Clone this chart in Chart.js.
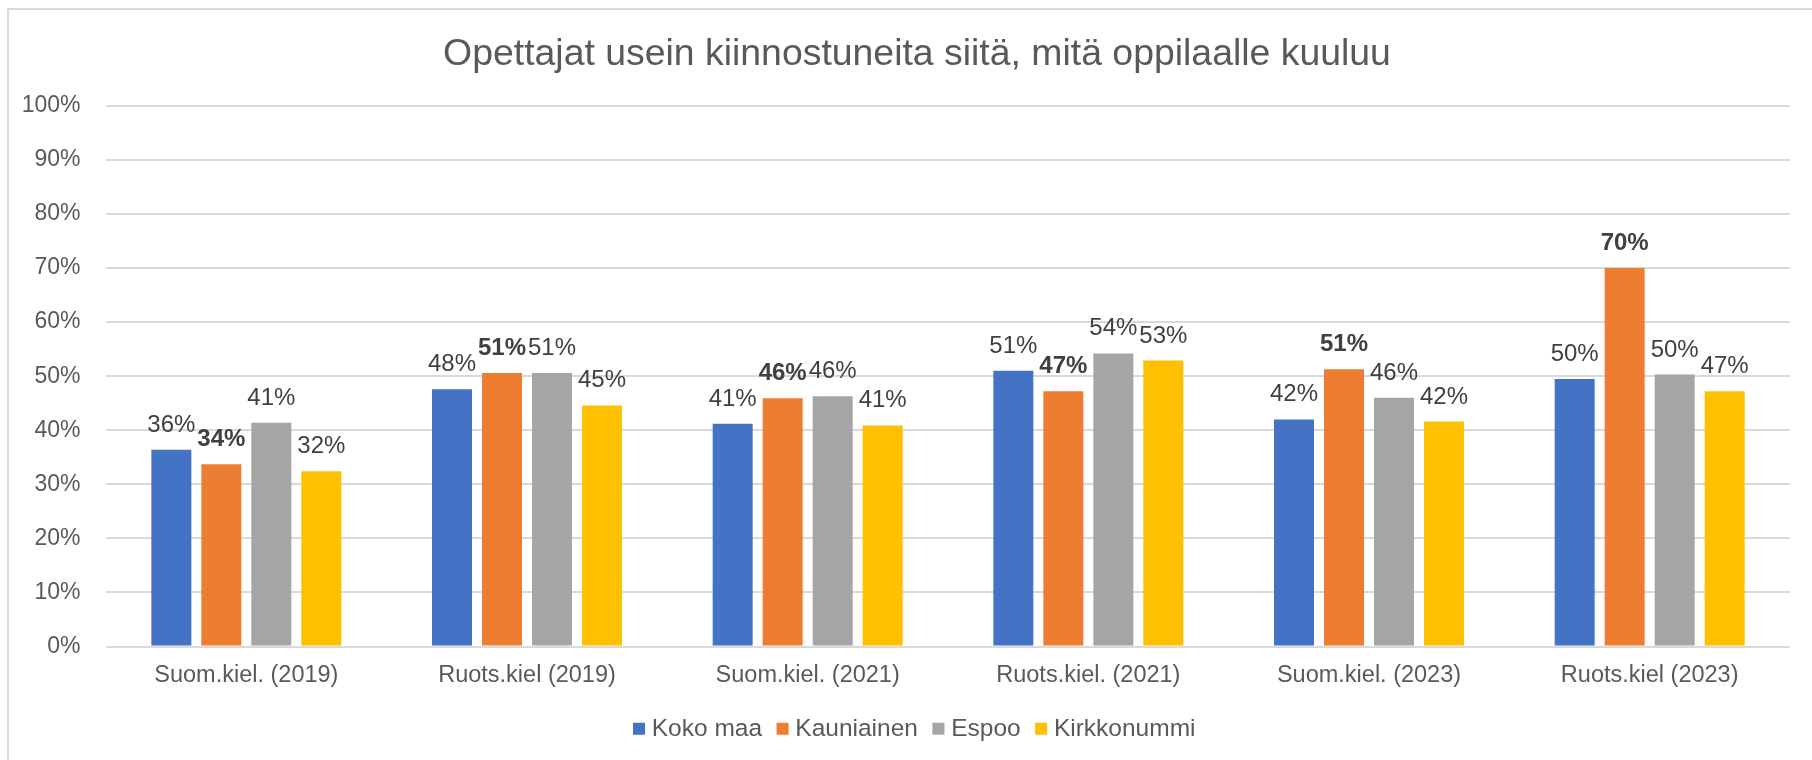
<!DOCTYPE html>
<html>
<head>
<meta charset="utf-8">
<script src="https://cdn.jsdelivr.net/npm/chart.js@4.4.1/dist/chart.umd.min.js"></script>
<style>
  html, body { margin: 0; padding: 0; background: #ffffff; }
  #wrap { position: relative; width: 1812px; height: 760px; overflow: hidden; }
  #frame { position: absolute; left: 7px; top: 8px; right: -10px; bottom: -10px;
           border-left: 2px solid #D9D9D9; border-top: 2px solid #D9D9D9; }
  #c { position: absolute; left: 0; top: 0; }
</style>
</head>
<body>
<div id="wrap">
  <div id="frame"></div>
  <canvas id="c" width="1812" height="760"></canvas>
</div>
<script>
const chartTitle = 'Opettajat usein kiinnostuneita siitä, mitä oppilaalle kuuluu';
const categories = ['Suom.kiel. (2019)', 'Ruots.kiel (2019)', 'Suom.kiel. (2021)', 'Ruots.kiel. (2021)', 'Suom.kiel. (2023)', 'Ruots.kiel (2023)'];
const seriesNames = ['Koko maa', 'Kauniainen', 'Espoo', 'Kirkkonummi'];
const kokoMaa     = [36.4, 47.6, 41.2, 51.0, 42.0, 49.5];
const kauniainen  = [33.7, 50.6, 45.9, 47.2, 51.3, 70.0];
const espoo       = [41.4, 50.6, 46.3, 54.2, 46.0, 50.3];
const kirkkonummi = [32.4, 44.6, 40.9, 52.9, 41.6, 47.2];
const yTicks = [0, 10, 20, 30, 40, 50, 60, 70, 80, 90, 100];

const colors = ['#4472C4', '#ED7D31', '#A5A5A5', '#FFC000'];
const FONT = '"Liberation Sans", Arial, Helvetica, sans-serif';

const dataLabels = {
  id: 'dataLabels',
  afterDatasetsDraw(chart) {
    const ctx = chart.ctx;
    ctx.save();
    ctx.textAlign = 'center';
    ctx.textBaseline = 'alphabetic';
    chart.data.datasets.forEach((ds, di) => {
      const meta = chart.getDatasetMeta(di);
      if (meta.hidden) return;
      ctx.font = (di === 1 ? 'bold ' : '') + '24px ' + FONT;
      ctx.fillStyle = '#404040';
      meta.data.forEach((el, i) => {
        const v = ds.data[i];
        ctx.fillText(Math.round(v) + '%', el.x, el.y - 18);
      });
    });
    ctx.restore();
  }
};

new Chart(document.getElementById('c'), {
  type: 'bar',
  data: {
    labels: categories,
    datasets: [kokoMaa, kauniainen, espoo, kirkkonummi].map((d, i) => ({
      label: seriesNames[i],
      data: d,
      backgroundColor: colors[i],
      borderWidth: 0,
      categoryPercentage: 0.7125,
      barPercentage: 0.8
    }))
  },
  options: {
    responsive: false,
    animation: false,
    devicePixelRatio: 1,
    layout: { padding: { left: 44, right: 22, top: 0, bottom: 9 } },
    plugins: {
      title: {
        display: true,
        text: chartTitle,
        color: '#595959',
        font: { family: FONT, size: 37.4, weight: 'normal' },
        padding: { top: 32, bottom: 29 }
      },
      legend: {
        position: 'bottom',
        labels: {
          color: '#595959',
          font: { family: FONT, size: 24.5 },
          usePointStyle: true,
          pointStyle: 'rect',
          boxWidth: 1,
          boxHeight: 12,
          padding: 20
        }
      },
      tooltip: { enabled: false }
    },
    scales: {
      x: {
        grid: { display: false },
        border: { display: false },
        ticks: { color: '#595959', font: { family: FONT, size: 23.5 }, padding: 7, maxRotation: 0 },
        afterFit(s) { s.height = 50; }
      },
      y: {
        min: 0, max: 100,
        afterBuildTicks(s) { s.ticks = yTicks.map(v => ({ value: v })); },
        grid: { color: '#D9D9D9', lineWidth: 2, drawTicks: false },
        border: { display: false },
        ticks: { color: '#595959', font: { family: FONT, size: 23 }, padding: 25.5, callback: v => v + '%' },
        afterFit(s) { s.width = 62; },
        afterUpdate(s) { s._computeLabelArea = function () { return undefined; }; }
      }
    }
  },
  plugins: [dataLabels]
});
</script>
</body>
</html>
